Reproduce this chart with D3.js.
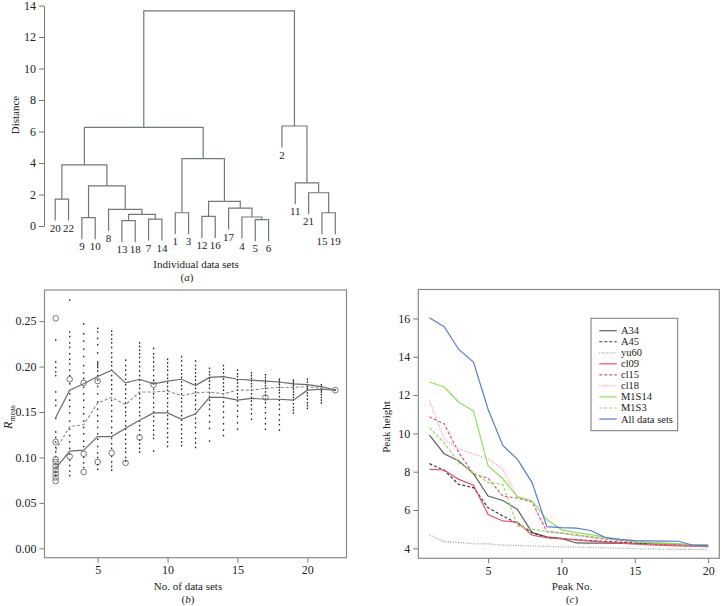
<!DOCTYPE html>
<html>
<head>
<meta charset="utf-8">
<script src="https://cdn.jsdelivr.net/npm/d3@7"></script>
<style>
  body { margin: 0; background: #fff; }
  svg { display: block; font-family: "Liberation Serif", "DejaVu Serif", serif; }
  .tick text { font-family: "Liberation Serif", "DejaVu Serif", serif; font-size: 12px; fill: #222; }
  .tick line { stroke: #777; }
  .domain { stroke: #777; }
</style>
</head>
<body>
<div id="chart"></div>
<script>
// ---- (a) dendrogram data, R hclust style: negative = data set, positive = earlier merge row
const leafOrder = [20, 22, 9, 10, 8, 13, 18, 7, 14, 1, 3, 12, 16, 17, 4, 5, 6, 2, 11, 21, 15, 19];
const mergeLeft  = [-13, -5, -7, -9, -4, -12, 1, -1, -15, -8, -17, 6, -20, -21, 4, -11, 13, 8, 17, -2, 19];
const mergeRight = [-18, -6, -14, -10, 2, -16, 3, -3, -19, 7, 5, 11, -22, 9, 10, 14, 15, 12, 18, 16, 20];
const mergeHeight = [0.34, 0.40, 0.44, 0.53, 0.57, 0.61, 0.74, 0.84, 0.84, 1.05, 1.14, 1.56, 1.71, 2.11, 2.55, 2.74, 3.88, 4.28, 6.26, 6.35, 13.66];
const distTicks = [0, 2, 4, 6, 8, 10, 12, 14];

// ---- (b) R_meas versus number of data sets
const nSets = [2, 3, 4, 5, 6, 7, 8, 9, 10, 11, 12, 13, 14, 15, 16, 17, 18, 19, 20, 21, 22];
const upperR  = [0.144, 0.174, 0.181, 0.189, 0.196, 0.182, 0.186, 0.181, 0.184, 0.186, 0.179, 0.188, 0.189, 0.186, 0.185, 0.184, 0.183, 0.181, 0.180, 0.178, 0.174];
const middleR = [0.108, 0.134, 0.136, 0.160, 0.166, 0.158, 0.172, 0.172, 0.173, 0.168, 0.171, 0.172, 0.170, 0.174, 0.174, 0.176, 0.177, 0.177, 0.178, 0.176, 0.174];
const lowerR  = [0.088, 0.107, 0.108, 0.123, 0.123, 0.132, 0.141, 0.149, 0.149, 0.142, 0.148, 0.166, 0.166, 0.163, 0.165, 0.164, 0.164, 0.163, 0.174, 0.175, 0.174];
const sampleR = [
  [0.229, 0.205, 0.199, 0.194, 0.190, 0.172, 0.163, 0.157, 0.143, 0.128, 0.122, 0.117, 0.111, 0.106, 0.101, 0.093, 0.089, 0.084, 0.080],
  [0.273, 0.238, 0.233, 0.226, 0.221, 0.214, 0.208, 0.203, 0.196, 0.190, 0.181, 0.170, 0.163, 0.156, 0.149, 0.140, 0.131, 0.124, 0.117, 0.110, 0.104, 0.097, 0.091, 0.085, 0.080],
  [0.247, 0.236, 0.228, 0.219, 0.211, 0.201, 0.193, 0.187, 0.177, 0.170, 0.163, 0.155, 0.148, 0.140, 0.133, 0.126, 0.118, 0.112, 0.100, 0.094, 0.089],
  [0.242, 0.238, 0.231, 0.224, 0.215, 0.205, 0.203, 0.201, 0.199, 0.195, 0.190, 0.185, 0.178, 0.170, 0.161, 0.153, 0.146, 0.140, 0.133, 0.126, 0.120, 0.112, 0.105, 0.100, 0.092, 0.087],
  [0.239, 0.235, 0.230, 0.226, 0.221, 0.215, 0.210, 0.205, 0.201, 0.196, 0.190, 0.185, 0.180, 0.175, 0.170, 0.163, 0.157, 0.151, 0.145, 0.140, 0.133, 0.127, 0.121, 0.115, 0.110, 0.101, 0.095, 0.090, 0.086],
  [0.207, 0.201, 0.196, 0.191, 0.186, 0.180, 0.175, 0.170, 0.165, 0.160, 0.155, 0.150, 0.146, 0.140, 0.135, 0.131, 0.125, 0.120, 0.115, 0.110, 0.106, 0.100, 0.096],
  [0.226, 0.222, 0.218, 0.214, 0.210, 0.205, 0.200, 0.195, 0.190, 0.185, 0.180, 0.176, 0.170, 0.165, 0.160, 0.155, 0.150, 0.146, 0.140, 0.135, 0.130, 0.125, 0.119, 0.115, 0.110, 0.106],
  [0.220, 0.214, 0.210, 0.205, 0.200, 0.196, 0.190, 0.185, 0.181, 0.175, 0.170, 0.166, 0.160, 0.155, 0.150, 0.145, 0.140, 0.135, 0.130, 0.125, 0.121, 0.107],
  [0.208, 0.204, 0.200, 0.196, 0.191, 0.187, 0.182, 0.178, 0.174, 0.170, 0.165, 0.160, 0.156, 0.151, 0.146, 0.142, 0.137, 0.132, 0.127, 0.122, 0.117, 0.112],
  [0.211, 0.206, 0.201, 0.196, 0.192, 0.188, 0.183, 0.179, 0.175, 0.170, 0.165, 0.161, 0.156, 0.151, 0.146, 0.141, 0.136, 0.131, 0.126, 0.121, 0.117, 0.113],
  [0.206, 0.201, 0.197, 0.193, 0.189, 0.185, 0.181, 0.176, 0.172, 0.168, 0.163, 0.158, 0.153, 0.148, 0.143, 0.138, 0.133, 0.127, 0.121, 0.116, 0.111],
  [0.198, 0.194, 0.191, 0.187, 0.184, 0.180, 0.176, 0.171, 0.167, 0.163, 0.158, 0.153, 0.146, 0.139, 0.132, 0.118],
  [0.201, 0.197, 0.193, 0.189, 0.186, 0.182, 0.178, 0.174, 0.170, 0.166, 0.161, 0.156, 0.150, 0.144, 0.137, 0.130, 0.124],
  [0.196, 0.192, 0.189, 0.185, 0.182, 0.178, 0.174, 0.170, 0.166, 0.162, 0.157, 0.151, 0.145, 0.138, 0.131],
  [0.193, 0.190, 0.187, 0.184, 0.181, 0.178, 0.174, 0.170, 0.166, 0.162, 0.158, 0.153, 0.148, 0.142],
  [0.191, 0.188, 0.185, 0.182, 0.179, 0.176, 0.172, 0.168, 0.164, 0.160, 0.155, 0.149, 0.143, 0.137, 0.131],
  [0.186, 0.184, 0.182, 0.180, 0.177, 0.174, 0.171, 0.167, 0.163, 0.158, 0.153, 0.147, 0.141, 0.136, 0.130],
  [0.185, 0.183, 0.181, 0.179, 0.177, 0.175, 0.172, 0.169, 0.166, 0.163, 0.159, 0.155, 0.152, 0.149],
  [0.186, 0.183, 0.180, 0.178, 0.176, 0.174, 0.171, 0.168, 0.164, 0.160, 0.157, 0.154],
  [0.180, 0.178, 0.176, 0.174, 0.172, 0.169, 0.166, 0.163, 0.160],
  [0.174]
];
const outlierN = [2, 2, 2, 2, 2, 2, 2, 2, 2, 3, 3, 4, 4, 4, 5, 5, 6, 7, 8, 9, 17, 22];
const outlierR = [0.253, 0.117, 0.098, 0.095, 0.090, 0.086, 0.082, 0.078, 0.074, 0.186, 0.101, 0.182, 0.104, 0.084, 0.184, 0.095, 0.105, 0.094, 0.122, 0.180, 0.166, 0.174];
const rTicks = [0, 0.05, 0.10, 0.15, 0.20, 0.25];
const nTicks = [5, 10, 15, 20];

// ---- (c) peak heights
const peakNo = [1, 2, 3, 4, 5, 6, 7, 8, 9, 10, 11, 12, 13, 14, 15, 16, 17, 18, 19, 20];
const seriesNames = ['A34', 'A45', 'yu60', 'cl09', 'cl15', 'cl18', 'M1S14', 'M1S3', 'All data sets'];
const a34   = [9.91, 8.94, 8.56, 7.90, 6.73, 6.50, 6.03, 4.82, 4.60, 4.52, 4.28, 4.27, 4.27, 4.26, 4.25, 4.24, 4.23, 4.21, 4.17, 4.17];
const a45   = [8.42, 8.07, 7.34, 7.17, 6.12, 5.69, 5.30, 4.82, 4.56, 4.50, 4.45, 4.40, 4.36, 4.32, 4.28, 4.24, 4.20, 4.16, 4.12, 4.10];
const yu60  = [4.70, 4.35, 4.30, 4.24, 4.23, 4.17, 4.15, 4.12, 4.10, 4.08, 4.07, 4.05, 4.03, 4.01, 3.98, 3.97, 3.96, 3.95, 3.95, 3.94];
const cl09  = [8.12, 8.09, 7.60, 7.30, 5.77, 5.43, 5.37, 4.68, 4.56, 4.50, 4.44, 4.38, 4.32, 4.27, 4.23, 4.18, 4.15, 4.13, 4.11, 4.09];
const cl15  = [10.87, 10.50, 9.00, 7.88, 7.66, 6.72, 6.62, 6.42, 4.88, 4.80, 4.70, 4.60, 4.50, 4.42, 4.35, 4.28, 4.22, 4.18, 4.12, 4.10];
const cl18  = [11.72, 9.69, 9.20, 8.92, 8.68, 8.12, 6.66, 6.45, 4.85, 4.78, 4.66, 4.55, 4.46, 4.40, 4.33, 4.28, 4.22, 4.16, 4.10, 4.08];
const m1s14 = [12.68, 12.42, 11.63, 11.17, 8.30, 7.63, 6.70, 6.47, 5.50, 4.98, 4.82, 4.72, 4.58, 4.46, 4.35, 4.30, 4.27, 4.24, 4.18, 4.17];
const m1s3  = [10.30, 9.50, 8.47, 7.95, 7.43, 7.34, 5.17, 5.00, 4.88, 4.80, 4.70, 4.62, 4.52, 4.43, 4.36, 4.31, 4.27, 4.23, 4.18, 4.16];
const allSets = [16.03, 15.57, 14.38, 13.72, 11.25, 9.37, 8.64, 7.43, 5.13, 5.08, 5.05, 4.93, 4.56, 4.47, 4.40, 4.39, 4.38, 4.37, 4.15, 4.14];
const heightTicks = [4, 6, 8, 10, 12, 14, 16];
const peakTicks = [5, 10, 15, 20];

// ---- drawing
const WIDTH = 721, HEIGHT = 606;
const svg = d3.select('#chart').append('svg').attr('width', WIDTH).attr('height', HEIGHT);
svg.append('rect').attr('width', WIDTH).attr('height', HEIGHT).attr('fill', '#fff');

function title(x, y, txt) {
  return svg.append('text').attr('x', x).attr('y', y).attr('text-anchor', 'middle')
    .style('font-size', '11px').attr('fill', '#222').text(txt);
}
function panelLabel(x, y, letter) {
  const t = svg.append('text').attr('x', x).attr('y', y).attr('text-anchor', 'middle')
    .style('font-size', '11px').attr('fill', '#222');
  t.append('tspan').text('(');
  t.append('tspan').style('font-style', 'italic').text(letter);
  t.append('tspan').text(')');
}

// (a) dendrogram
const xA = d3.scaleLinear().domain([0.16, 22.84]).range([44, 346.5]);
const yA = d3.scaleLinear().domain([0, 14]).range([226, 5.5]);
const hang = 0.1 * mergeHeight[mergeHeight.length - 1];

svg.append('g').attr('transform', 'translate(44,0)')
   .call(d3.axisLeft(yA).tickValues(distTicks).tickSize(5).tickSizeOuter(0).tickPadding(3))
   .attr('font-family', null);

const nodeX = [], nodeH = [];
function child(ref, h) {
  if (ref < 0) {
    const x = xA(leafOrder.indexOf(-ref) + 1);
    return { x: x, h: h - hang, label: String(-ref) };
  }
  return { x: nodeX[ref - 1], h: nodeH[ref - 1] };
}
const gA = svg.append('g');
mergeHeight.forEach((h, i) => {
  const l = child(mergeLeft[i], h), r = child(mergeRight[i], h);
  nodeX[i] = (l.x + r.x) / 2;
  nodeH[i] = h;
  gA.append('path')
    .attr('d', 'M' + l.x + ',' + yA(l.h) + 'V' + yA(h) + 'H' + r.x + 'V' + yA(r.h))
    .attr('fill', 'none').attr('stroke', '#6f7a7a').attr('stroke-width', 1.2);
  [l, r].forEach(c => {
    if (c.label) {
      gA.append('text').attr('x', c.x).attr('y', yA(c.h) + 11)
        .attr('text-anchor', 'middle').style('font-size', '11px').attr('fill', '#222')
        .text(c.label);
    }
  });
});

svg.append('text').attr('transform', 'translate(19,115) rotate(-90)')
   .attr('text-anchor', 'middle').style('font-size', '11px').attr('fill', '#222').text('Distance');
title(196, 268, 'Individual data sets');
panelLabel(187, 281, 'a');

// (b) R_meas
const xB = d3.scaleLinear().domain([1.2, 22.8]).range([44.5, 346.5]);
const yB = d3.scaleLinear().domain([-0.0103, 0.2842]).range([557.7, 290]);

svg.append('g').attr('transform', 'translate(44.5,0)')
   .call(d3.axisLeft(yB).tickValues(rTicks).tickFormat(d3.format('.2f')).tickSize(5).tickSizeOuter(0).tickPadding(3))
   .attr('font-family', null)
   .select('.domain').remove();
svg.append('g').attr('transform', 'translate(0,557.7)')
   .call(d3.axisBottom(xB).tickValues(nTicks).tickSize(5).tickSizeOuter(0).tickPadding(3))
   .attr('font-family', null)
   .select('.domain').remove();

const gB = svg.append('g');
sampleR.forEach((vals, i) => {
  gB.selectAll(null).data(vals).enter().append('rect')
    .attr('x', xB(nSets[i]) - 0.6).attr('y', d => yB(d) - 0.8)
    .attr('width', 1.3).attr('height', 1.6).attr('fill', '#222');
});
const lineB = d3.line().x((d, i) => xB(nSets[i])).y(d => yB(d));
gB.append('path').attr('d', lineB(upperR)).attr('fill', 'none').attr('stroke', '#6a6a6a').attr('stroke-width', 1.2);
gB.append('path').attr('d', lineB(lowerR)).attr('fill', 'none').attr('stroke', '#6a6a6a').attr('stroke-width', 1.2);
gB.append('path').attr('d', lineB(middleR)).attr('fill', 'none').attr('stroke', '#8a8a8a').attr('stroke-width', 1.1).attr('stroke-dasharray', '3,2');
gB.selectAll(null).data(outlierR).enter().append('circle')
  .attr('cx', (d, i) => xB(outlierN[i])).attr('cy', d => yB(d)).attr('r', 2.8)
  .attr('fill', 'none').attr('stroke', '#666').attr('stroke-width', 0.9);

svg.append('rect').attr('x', 44.5).attr('y', 290).attr('width', 302).attr('height', 267.7)
   .attr('fill', 'none').attr('stroke', '#8a8a8a').attr('stroke-width', 1.2);

const rl = svg.append('text').attr('transform', 'translate(12,417) rotate(-90)')
   .attr('text-anchor', 'middle').style('font-size', '12px').attr('fill', '#222');
rl.append('tspan').style('font-style', 'italic').text('R');
rl.append('tspan').attr('dy', 3).style('font-size', '8px').text('meas');
title(188, 590, 'No. of data sets');
panelLabel(188, 603, 'b');

// (c) peak heights
const xC = d3.scaleLinear().domain([0.24, 20.76]).range([418.3, 719.3]);
const yC = d3.scaleLinear().domain([3.48, 17.51]).range([558.3, 289.5]);

svg.append('g').attr('transform', 'translate(418.3,0)')
   .call(d3.axisLeft(yC).tickValues(heightTicks).tickSize(5).tickSizeOuter(0).tickPadding(3))
   .attr('font-family', null)
   .select('.domain').remove();
svg.append('g').attr('transform', 'translate(0,558.3)')
   .call(d3.axisBottom(xC).tickValues(peakTicks).tickSize(5).tickSizeOuter(0).tickPadding(3))
   .attr('font-family', null)
   .select('.domain').remove();

const seriesValues = [a34, a45, yu60, cl09, cl15, cl18, m1s14, m1s3, allSets];
const seriesColor = ['#5f5f5f', '#3a3a3a', '#9a9a9a', '#e8506a', '#e0566a', '#f08cb4', '#8ee05c', '#8ee05c', '#5a7ad8'];
const seriesDash = [null, '3,2', '1,1.5', null, '3,2', '1,1.5', null, '3,2', null];
const lineC = d3.line().x((d, i) => xC(peakNo[i])).y(d => yC(d));
const gC = svg.append('g');
seriesValues.forEach((vals, i) => {
  gC.append('path').attr('d', lineC(vals)).attr('fill', 'none')
    .attr('stroke', seriesColor[i]).attr('stroke-width', 1.2)
    .attr('stroke-dasharray', seriesDash[i]);
});

svg.append('rect').attr('x', 418.3).attr('y', 289.5).attr('width', 301).attr('height', 268.8)
   .attr('fill', 'none').attr('stroke', '#8a8a8a').attr('stroke-width', 1.2);

// legend
const leg = svg.append('g');
leg.append('rect').attr('x', 591).attr('y', 318.3).attr('width', 86.7).attr('height', 112.4)
   .attr('fill', '#fff').attr('stroke', '#777').attr('stroke-width', 1);
seriesNames.forEach((name, i) => {
  const y = 330.7 + i * 11.04;
  leg.append('line').attr('x1', 599.3).attr('x2', 616.7).attr('y1', y).attr('y2', y)
    .attr('stroke', seriesColor[i]).attr('stroke-width', 1.2).attr('stroke-dasharray', seriesDash[i]);
  leg.append('text').attr('x', 621).attr('y', y + 3.5).style('font-size', '10.5px').attr('fill', '#222').text(name);
});

svg.append('text').attr('transform', 'translate(390,427) rotate(-90)')
   .attr('text-anchor', 'middle').style('font-size', '11px').attr('fill', '#222').text('Peak height');
title(572, 590, 'Peak No.');
panelLabel(572, 603, 'c');
</script>
</body>
</html>
